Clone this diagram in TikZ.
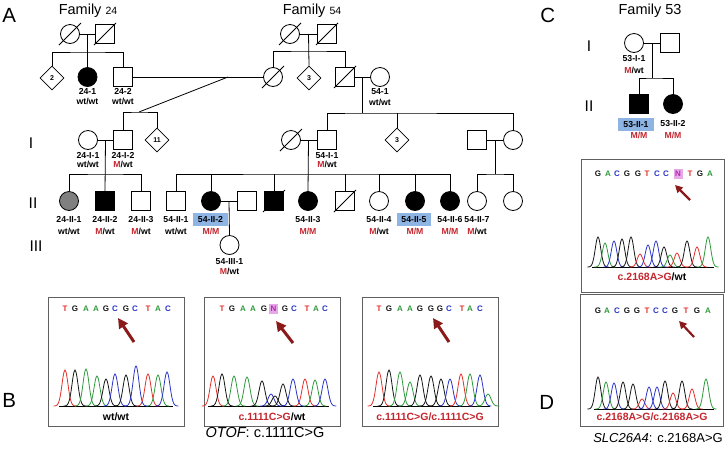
\documentclass[tikz,border=0pt]{standalone}
\usepackage{fontspec}
\setmainfont{Liberation Sans}
\usetikzlibrary{arrows.meta,shapes.geometric}
\definecolor{mred}{HTML}{C4262E}
\definecolor{hlblue}{HTML}{8EB4E3}
\definecolor{arrowred}{HTML}{8B1A1A}
\definecolor{tr}{HTML}{E2302A}
\definecolor{tg}{HTML}{2E9A3C}
\definecolor{tb}{HTML}{2A34C8}
\definecolor{tk}{HTML}{151515}
\definecolor{npink}{HTML}{E6A8E6}
\definecolor{nmag}{HTML}{B02AB0}
\definecolor{boxgray}{HTML}{606060}
\newcommand\dec[1]{\draw[line width=0.8pt] (#1.center) ++(-11,11) -- ++(22,-22);}
\newcommand\pk[5]{\pgfmathsetmacro\pka{#2-2.7*#4}\pgfmathsetmacro\pkb{#2+2.7*#4}%
  \draw[color=#1,line width=0.8pt] plot[variable=\t,domain=\pka:\pkb,samples=25,smooth] (\t,{#5-#3*exp(0-((\t-#2)/#4)^2)});}
\tikzset{
  sym/.style={draw, line width=0.8pt, inner sep=0pt},
  male/.style={sym, minimum size=18.5pt},
  female/.style={sym, circle, minimum size=19pt},
  unk/.style={sym, diamond, minimum size=24pt, font=\bfseries\fontsize{7}{8}\selectfont},
  aff/.style={fill=black},
  lab/.style={inner sep=0pt, font=\bfseries\fontsize{8.7}{10}\selectfont, text height=6.3pt, text depth=0pt},
  hl/.style={lab, fill=hlblue, minimum height=13pt},
  gen/.style={inner sep=0pt, anchor=base, font=\fontsize{15.5}{17}\selectfont},
  panel/.style={inner sep=0pt, anchor=base west, font=\fontsize{20.5}{23}\selectfont},
  chbox/.style={draw=boxgray, line width=0.9pt},
  seq/.style={inner sep=0pt, font=\bfseries\fontsize{8}{9}\selectfont, text height=5.8pt, text depth=0pt},
  chlab/.style={inner sep=0pt, font=\bfseries\fontsize{10.5}{12}\selectfont, text height=7.6pt, text depth=0pt},
  bigarr/.style={-{Triangle[length=10pt,width=10pt]}, line width=3pt, arrowred},
  smarr/.style={-{Triangle[length=7.5pt,width=7.5pt]}, line width=2.2pt, arrowred},
  every path/.style={line width=0.8pt}
}
\begin{document}
\begin{tikzpicture}[x=1pt,y=-1pt]
\useasboundingbox (0,0) rectangle (727,448);
% ---------- panel letters ----------
\node[panel] (pA) at (2,22) {A};
\node[panel] (pB) at (2,407) {B};
\node[panel] (pC) at (540,22) {C};
\node[panel] (pD) at (539,409) {D};
% ---------- titles ----------
\node[inner sep=0pt, anchor=base] (t24) at (88,14.5) {\fontsize{14.5}{16}\selectfont Family \fontsize{10.5}{12}\selectfont 24};
\node[inner sep=0pt, anchor=base] (t54) at (312,14.5) {\fontsize{14.5}{16}\selectfont Family \fontsize{10.5}{12}\selectfont 54};
\node[inner sep=0pt, anchor=base] (t53) at (650,14.5) {\fontsize{14.5}{16}\selectfont Family 53};
% ---------- generation numerals ----------
\node[gen] (gI) at (31,148) {I};
\node[gen] (gII) at (33,208) {II};
\node[gen] (gIII) at (36,251) {III};
\node[gen] (hI) at (589,51) {I};
\node[gen] (hII) at (589,111) {II};

% ---------- Family 24, top ----------
\node[female] (f24m) at (70,34) {}; \dec{f24m}
\node[male] (f24f) at (105,34) {}; \dec{f24f}
\draw (f24m) -- (f24f);
\coordinate (m24) at (87.5,34);
\coordinate (s24) at (87.5,52);
\node[unk] (d2) at (52,78) {2};
\node[female,aff] (p241) at (87.5,77) {};
\node[male] (p242) at (123,77) {};
\draw (m24) -- (p241.north);
\draw (d2.north) |- (s24) -| (p242.north);
\node[lab] (l241) at (87.5,91) {24-1};
\node[lab] (g241) at (87.5,101.5) {wt/wt};
\node[lab] (l242) at (123,91) {24-2};
\node[lab] (g242) at (123,101.5) {wt/wt};

% ---------- Family 54, top ----------
\node[female] (f54m) at (290,34) {}; \dec{f54m}
\node[male] (f54f) at (327,34) {}; \dec{f54f}
\draw (f54m) -- (f54f);
\coordinate (m54) at (308.5,34);
\coordinate (s54) at (308.5,51);
\node[female] (p54c) at (273,77) {}; \dec{p54c}
\node[unk] (d3a) at (309,78) {3};
\node[male] (p54d) at (345,77) {}; \dec{p54d}
\node[female] (p541) at (380,77) {};
\draw (m54) -- (d3a.north);
\draw (p54c.north) |- (s54) -| (p54d.north);
\node[lab] (l541) at (380,91.5) {54-1};
\node[lab] (g541) at (380,102) {wt/wt};
\draw (p54d) -- (p541);

% marriage 24-2 x family 54 daughter
\draw (p242) -- (p54c);
\coordinate (x1) at (228,77);
\coordinate (s1) at (139,112);
\draw (x1) -- (s1);

% ---------- Generation I ----------
\node[female] (p24I1) at (88,140) {};
\node[male] (p24I2) at (123,140) {};
\node[unk] (d11) at (157,140) {11};
\draw (p24I2.north) |- (s1) -| (d11.north);
\draw (p24I1) -- (p24I2);
\node[lab] (l24I1) at (88,155) {24-I-1};
\node[lab] (g24I1) at (88,164.5) {wt/wt};
\node[lab] (l24I2) at (123,155) {24-I-2};
\node[lab] (g24I2) at (123,164.5) {\textcolor{mred}{M}/wt};

\coordinate (m541) at (362,77);
\coordinate (s541) at (362,113);
\draw (m541) -- (s541);
\node[female] (p54Ia) at (291,140) {}; \dec{p54Ia}
\node[male] (p54I1) at (327,140) {};
\node[unk] (d3b) at (397,140) {3};
\node[male] (q1) at (477,140) {};
\node[female] (q2) at (513,140) {};
\draw (p54I1.north) |- (s541) -| (q2.north);
\draw (d3b.north) -- (d3b.north |- s541);
\draw (p54Ia) -- (p54I1);
\draw (q1) -- (q2);
\node[lab] (l54I1) at (327,155) {54-I-1};
\node[lab] (g54I1) at (327,164.5) {\textcolor{mred}{M}/wt};

% ---------- Generation II ----------
\node[female,fill=gray] (a1) at (69,201) {};
\node[male,aff] (a2) at (105,201) {};
\node[male] (a3) at (141,201) {};
\coordinate (m24I) at (105.5,140);
\coordinate (s24I) at (105.5,174);
\draw (m24I) -- (a2.north);
\draw (a1.north) |- (s24I) -| (a3.north);

\node[male] (b1) at (176,201) {};
\node[female,aff] (b2) at (211,201) {};
\node[male] (bsp) at (247,201) {};
\node[male,aff] (b3) at (274,201) {}; \dec{b3}
\node[female,aff] (b4) at (308,201) {};
\node[male] (b5) at (345,201) {}; \dec{b5}
\node[female] (b6) at (379,201) {};
\node[female,aff] (b7) at (415,201) {};
\node[female,aff] (b8) at (450,201) {};
\coordinate (m54I) at (308.5,140);
\coordinate (s54I) at (308.5,174);
\draw (m54I) -- (b4.north);
\draw (b1.north) |- (s54I) -| (b8.north);
\foreach \nn in {b2,b3,b5,b6,b7} {\draw (\nn.north) -- (\nn.north |- s54I);}

\node[female] (c1) at (477,201) {};
\node[female] (c2) at (513,201) {};
\coordinate (mq) at (495,140);
\coordinate (sq) at (495,174);
\draw (mq) -- (sq);
\draw (c1.north) |- (sq) -| (c2.north);

% generation III
\draw (b2) -- (bsp);
\coordinate (m3) at (229,201);
\node[female] (e1) at (229.5,245) {};
\draw (m3) -- (e1.north);

% gen II labels
\node[lab] (la1) at (69,219.5) {24-II-1};
\node[lab] (ga1) at (69,231) {wt/wt};
\node[lab] (la2) at (105,219.5) {24-II-2};
\node[lab] (ga2) at (105,231) {\textcolor{mred}{M}/wt};
\node[lab] (la3) at (141,219.5) {24-II-3};
\node[lab] (ga3) at (141,231) {\textcolor{mred}{M}/wt};
\node[lab] (lb1) at (176,219.5) {54-II-1};
\node[lab] (gb1) at (176,231) {wt/wt};
\node[hl, minimum width=35pt] (lb2) at (210.5,219.5) {54-II-2};
\node[lab] (gb2) at (211,231) {\textcolor{mred}{M/M}};
\node[lab] (lb4) at (308,219.5) {54-II-3};
\node[lab] (gb4) at (308,231) {\textcolor{mred}{M/M}};
\node[lab] (lb6) at (379,219.5) {54-II-4};
\node[lab] (gb6) at (379,231) {\textcolor{mred}{M}/wt};
\node[hl, minimum width=34pt] (lb7) at (414,219.5) {54-II-5};
\node[lab] (gb7) at (415,231) {\textcolor{mred}{M/M}};
\node[lab] (lb8) at (450,219.5) {54-II-6};
\node[lab] (gb8) at (450,231) {\textcolor{mred}{M/M}};
\node[lab] (lc1) at (477,219.5) {54-II-7};
\node[lab] (gc1) at (477,231) {\textcolor{mred}{M}/wt};
\node[lab] (le1) at (229.5,261) {54-III-1};
\node[lab] (ge1) at (229.5,271.5) {\textcolor{mred}{M}/wt};

% ---------- Family 53 ----------
\node[female] (r1) at (634,43) {};
\node[male] (r2) at (670,43) {};
\draw (r1) -- (r2);
\coordinate (m53) at (652.5,43);
\coordinate (s53) at (652.5,78);
\draw (m53) -- (s53);
\node[male,aff] (r3) at (639,104) {};
\node[female,aff] (r4) at (673,104) {};
\draw (r3.north) |- (s53) -| (r4.north);
\node[lab] (lr1) at (634,58.5) {53-I-1};
\node[lab] (gr1) at (634,70) {\textcolor{mred}{M}/wt};
\node[hl, minimum width=36pt] (lr3) at (636,124) {53-II-1};
\node[lab] (gr3) at (639,135) {\textcolor{mred}{M/M}};
\node[lab] (lr4) at (673,123.5) {53-II-2};
\node[lab] (gr4) at (673,135) {\textcolor{mred}{M/M}};

% ---------- chromatogram boxes ----------
\draw[chbox] (48,297) rectangle (184,426);
\draw[chbox] (204,297) rectangle (340,426);
\draw[chbox] (362,297) rectangle (498,426);
\draw[chbox] (581,159) rectangle (724,292);
\draw[chbox] (580,294) rectangle (723,426);

% sequences
\foreach \lx/\lc/\ll [count=\i] in {65/tr/T,75/tk/G,86/tg/A,96/tg/A,106/tk/G,115/tb/C,126/tk/G,135/tb/C,148/tr/T,158/tg/A,168/tb/C}
  {\node[seq,text=\lc] (sa\i) at (\lx,309) {\ll};}
\foreach \lx/\lc/\ll [count=\i] in {222/tr/T,232/tk/G,243/tg/A,253/tg/A,264/tk/G,285/tk/G,294/tb/C,307/tr/T,316/tg/A,325/tb/C}
  {\node[seq,text=\lc] (sb\i) at (\lx,309) {\ll};}
\node[seq,text=nmag,fill=npink,minimum width=9pt,minimum height=10pt] (sbN) at (273.5,309) {N};
\foreach \lx/\lc/\ll [count=\i] in {379/tr/T,389/tk/G,400/tg/A,410/tg/A,420/tk/G,431/tk/G,440/tk/G,449/tb/C,462/tr/T,470/tg/A,480/tb/C}
  {\node[seq,text=\lc] (sc\i) at (\lx,309) {\ll};}
\foreach \lx/\lc/\ll [count=\i] in {598/tk/G,608/tg/A,617/tb/C,627/tk/G,638/tk/G,647/tr/T,657/tb/C,666/tb/C,690/tr/T,700/tk/G,710/tg/A}
  {\node[seq,text=\lc] (sd\i) at (\lx,174) {\ll};}
\node[seq,text=nmag,fill=npink,minimum width=9pt,minimum height=10pt] (sdN) at (678,174) {N};
\foreach \lx/\lc/\ll [count=\i] in {598/tk/G,607/tg/A,617/tb/C,627/tk/G,637/tk/G,647/tr/T,656/tb/C,665/tb/C,675/tk/G,686/tr/T,697/tk/G,708/tg/A}
  {\node[seq,text=\lc] (se\i) at (\lx,310.5) {\ll};}

% arrows
\coordinate (aa1) at (134,342); \coordinate (aa2) at (118,318);
\draw[bigarr] (aa1) -- (aa2);
\coordinate (ab1) at (293,343); \coordinate (ab2) at (276,321);
\draw[bigarr] (ab1) -- (ab2);
\coordinate (ac1) at (449,342); \coordinate (ac2) at (433,318);
\draw[bigarr] (ac1) -- (ac2);
\coordinate (ad1) at (690,200); \coordinate (ad2) at (675,185);
\draw[smarr] (ad1) -- (ad2);
\coordinate (ae1) at (694,337); \coordinate (ae2) at (679,321);
\draw[smarr] (ae1) -- (ae2);

% traces
\draw[line width=0.7pt] (59,406) -- (173,406);
\foreach \pc/\px/\ph in {tr/65/36,tk/75/36,tg/86/37,tg/97/30,tk/106/27,tb/115/32,tk/126/31,tb/136/40,tr/148/32,tg/158/31,tb/167/34}
  {\pk{\pc}{\px}{\ph}{4.2}{406}}
\draw[line width=0.7pt] (208,406) -- (329,406);
\foreach \pc/\px/\ph in {tr/213/30,tk/222/32,tg/234/30,tg/247/29,tk/262/25,tb/271/12,tk/275/10,tk/283/22,tb/293/27,tr/305/27,tg/315/26,tb/325/27}
  {\pk{\pc}{\px}{\ph}{4.2}{406}}
\draw[line width=0.7pt] (373,406) -- (490,406);
\foreach \pc/\px/\ph in {tr/379/34,tk/389/36,tg/400/34,tg/410/24,tk/420/31,tk/431/30,tk/441/27,tb/450/27,tr/461/32,tg/470/32,tb/480/31,tg/488/12}
  {\pk{\pc}{\px}{\ph}{4.2}{406}}
\draw[line width=0.7pt] (592,267) -- (714,267);
\foreach \pc/\px/\ph in {tk/598/30,tg/605/24,tb/614/26,tk/622/28,tk/631/30,tr/640/13,tb/648/22,tb/656/26,tk/664/20,tg/670/12,tr/677/14,tk/687/26,tr/697/20,tg/708/30}
  {\pk{\pc}{\px}{\ph}{3.9}{267}}
\draw[line width=0.7pt] (594,409) -- (714,409);
\foreach \pc/\px/\ph in {tk/598/32,tg/606/27,tb/614/26,tk/623/27,tk/633/25,tr/642/10,tb/649/22,tb/657/22,tk/665/28,tr/673/16,tk/682/28,tr/692/20,tg/706/30}
  {\pk{\pc}{\px}{\ph}{3.9}{409}}

% chromatogram labels
\node[chlab] (ka) at (116,416.5) {wt/wt};
\node[chlab] (kb) at (272,416.5) {\textcolor{mred}{c.1111C>G}/wt};
\node[chlab] (kc) at (430,416.5) {\textcolor{mred}{c.1111C>G/c.1111C>G}};
\node[chlab] (kd) at (652,277) {\textcolor{mred}{c.2168A>G}/wt};
\node[chlab] (ke) at (652,416.5) {\textcolor{mred}{c.2168A>G/c.2168A>G}};

% captions
\node[inner sep=0pt, anchor=base] (capB) at (265,437) {\fontsize{14.5}{16}\selectfont\itshape OTOF\upshape: c.1111C>G};
\node[inner sep=0pt, anchor=base] (capD) at (658,442) {\fontsize{13}{15}\selectfont\itshape SLC26A4\upshape: c.2168A>G};
\end{tikzpicture}
\end{document}
